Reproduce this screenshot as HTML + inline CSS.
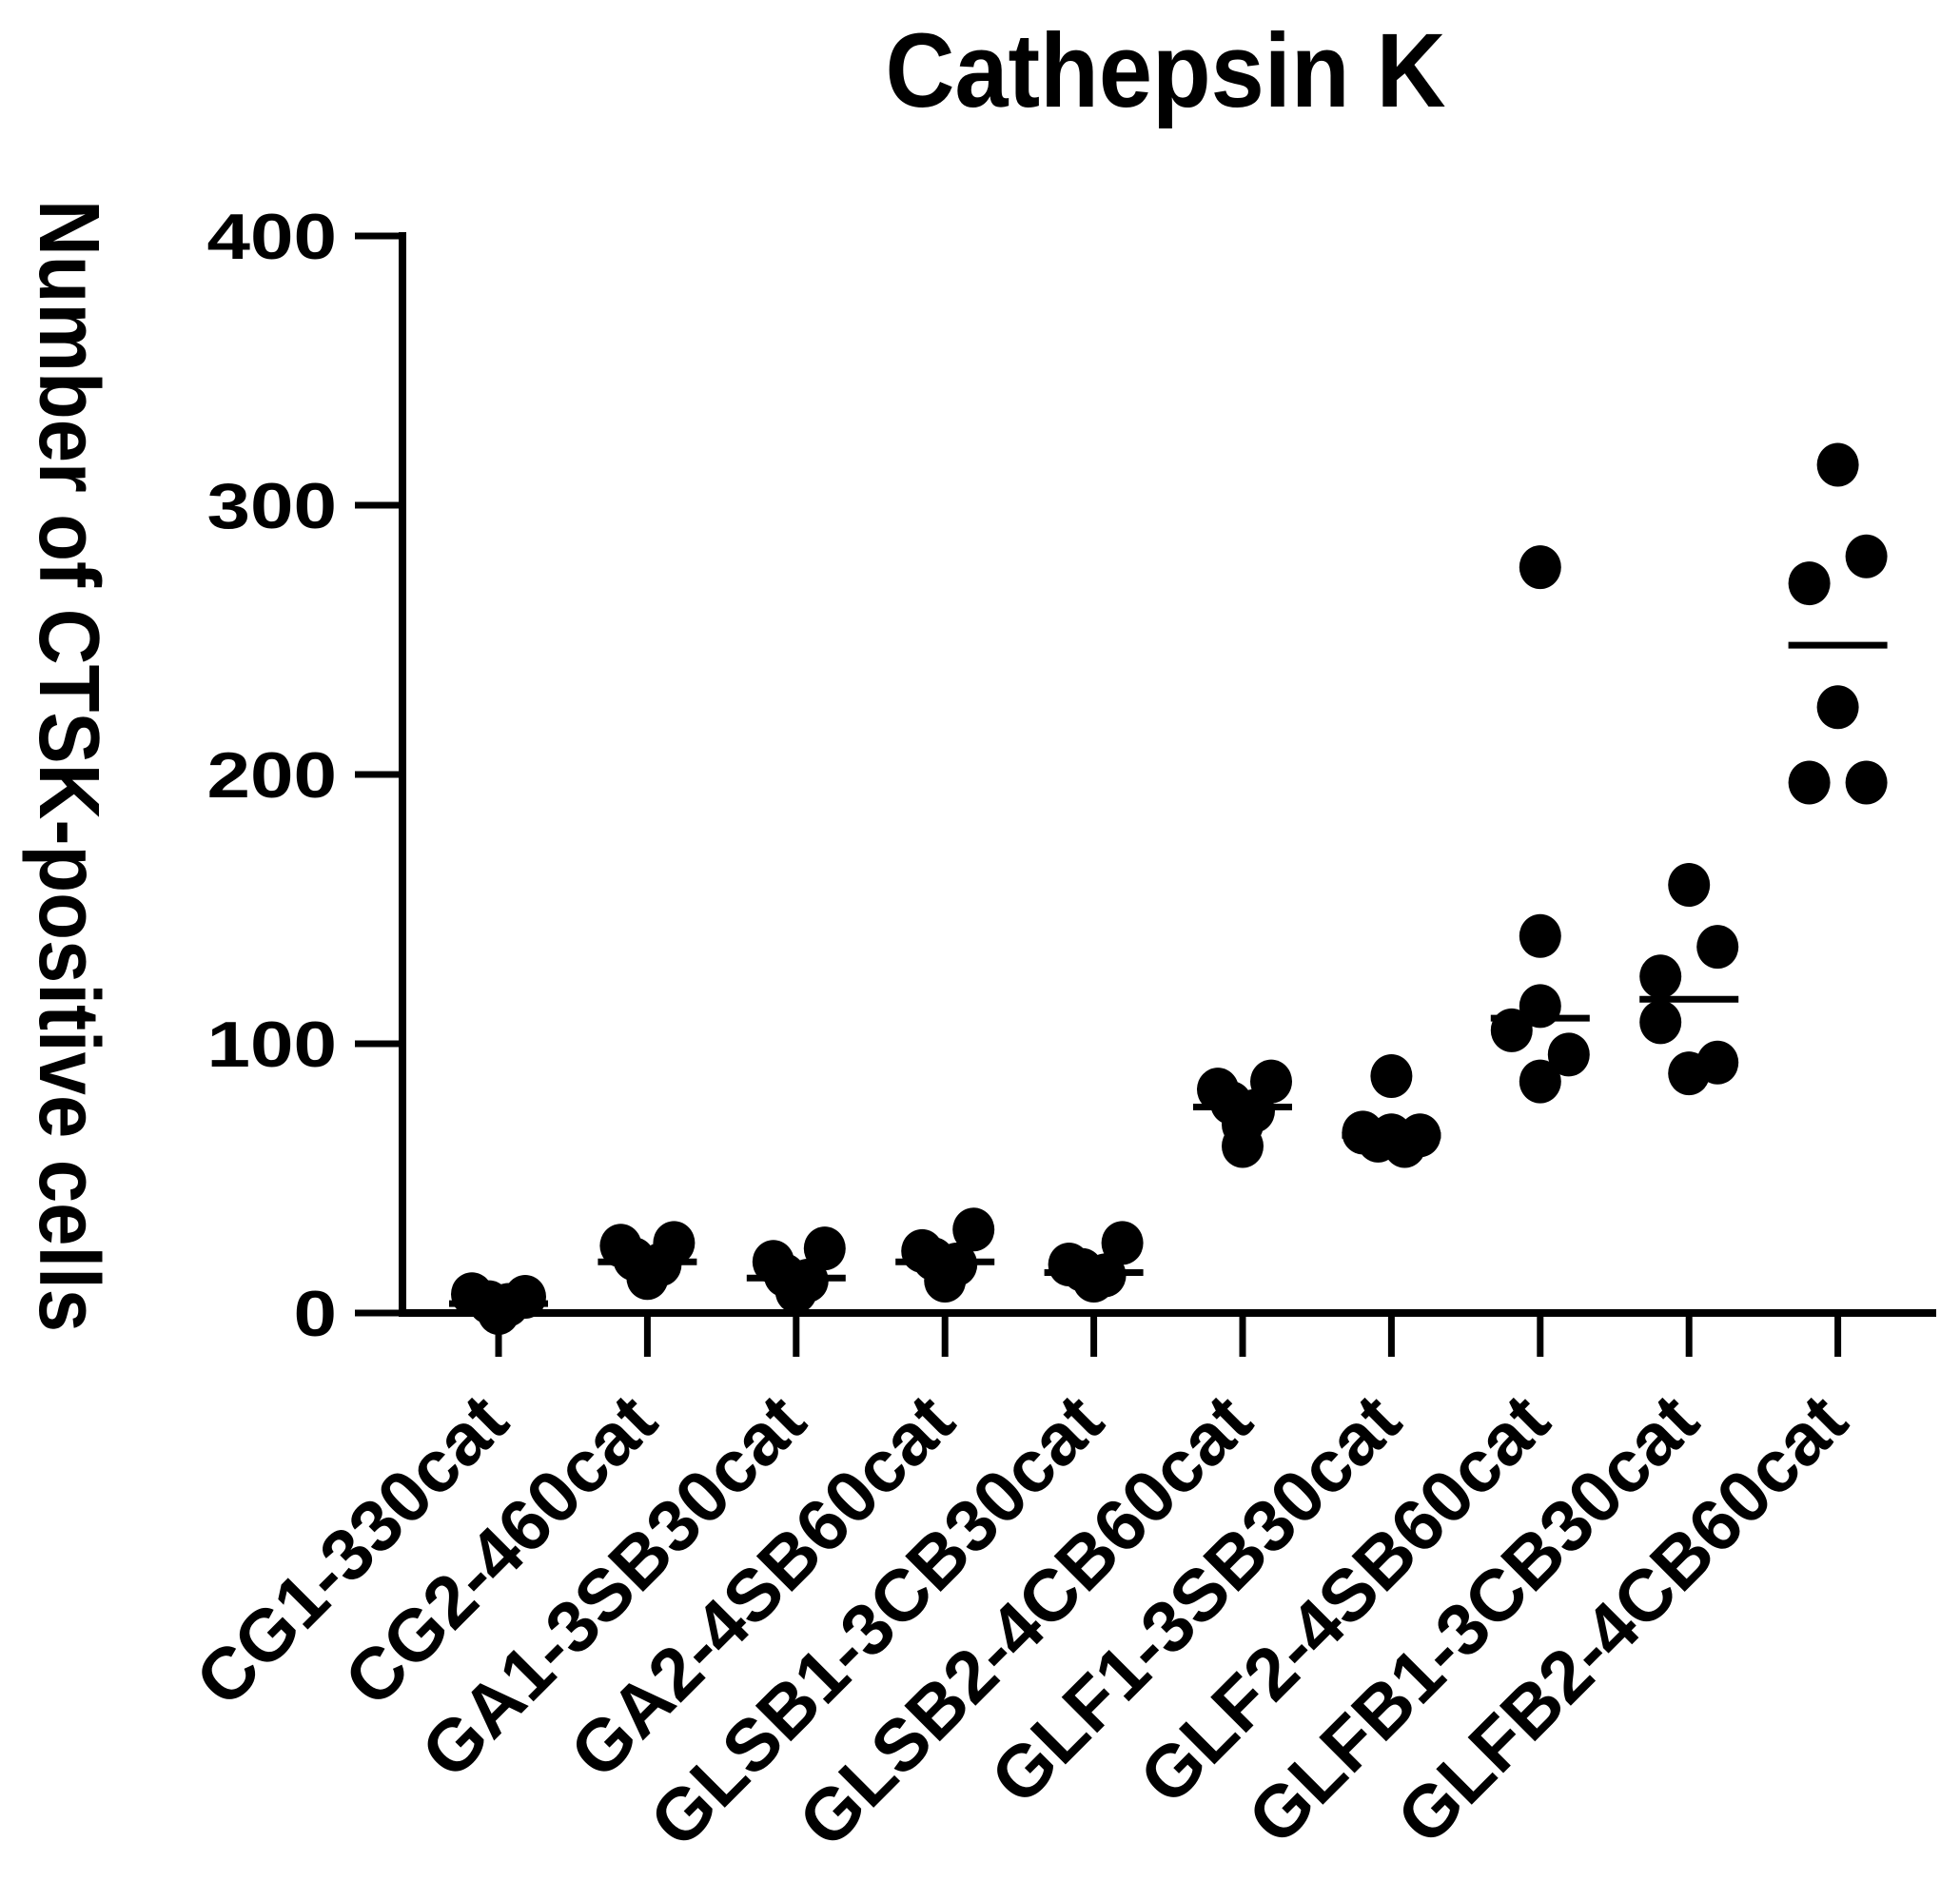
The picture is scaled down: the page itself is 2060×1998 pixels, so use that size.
<!DOCTYPE html>
<html><head><meta charset="utf-8"><style>html,body{margin:0;padding:0;background:#fff}svg{display:block}text{font-family:"Liberation Sans",Arial,sans-serif;font-weight:bold;fill:#000}</style></head>
<body>
<svg id="chart" width="2060" height="1998" viewBox="0 0 2060 1998" xmlns="http://www.w3.org/2000/svg">
<text x="1225" y="112" font-size="110" text-anchor="middle" textLength="589" lengthAdjust="spacingAndGlyphs">Cathepsin K</text>
<text transform="translate(42,805) rotate(90)" font-size="90" text-anchor="middle" textLength="1190" lengthAdjust="spacingAndGlyphs">Number of CTSK-positive cells</text>
<g id="axes"></g>
<g id="marks"></g>
</svg>
<script>
const categories = ["CG1-330cat","CG2-460cat","GA1-3SB30cat","GA2-4SB60cat","GLSB1-3CB30cat","GLSB2-4CB60cat","GLF1-3SB30cat","GLF2-4SB60cat","GLFB1-3CB30cat","GLFB2-4CB60cat"];
const valuesCG1 = [7,6,4,3,1,0];
const valuesCG2 = [25,26,20,18,15,13];
const valuesGA1 = [19,24,14,12,10,8];
const valuesGA2 = [23,31,20,18,14,12];
const valuesGLSB1 = [18,26,16,14,13,12];
const valuesGLSB2 = [83,86,78,75,70,62];
const valuesGLF1 = [88,67,66,66,64,62];
const valuesGLF2 = [277,140,114,105,96,86];
const valuesGLFB1 = [159,136,125,108,93,89];
const valuesGLFB2 = [315,281,271,225,197,197];
const seriesValues = [valuesCG1,valuesCG2,valuesGA1,valuesGA2,valuesGLSB1,valuesGLSB2,valuesGLF1,valuesGLF2,valuesGLFB1,valuesGLFB2];
const yTicks = [0,100,200,300,400];

const NS = "http://www.w3.org/2000/svg";
const axisX = 423, y0px = 1380, y400px = 248, xEnd = 2035;
const firstX = 524, stepX = 156.4;
function yScale(v){ return y0px - (v/400)*(y0px - y400px); }
function xScale(i){ return firstX + i*stepX; }
function mk(tag, attrs, parent){ const e=document.createElementNS(NS,tag); for(const k in attrs) e.setAttribute(k,attrs[k]); parent.appendChild(e); return e; }

const axes = document.getElementById('axes');
const marks = document.getElementById('marks');

const yAxis = mk('line',{x1:axisX,y1:yScale(400)-4,x2:axisX,y2:y0px+4,stroke:'#000','stroke-width':8},axes);


const xAxis = mk('line',{x1:axisX-4,y1:y0px,x2:xEnd,y2:y0px,stroke:'#000','stroke-width':8},axes);



yTicks.forEach(t=>{
  const y=yScale(t);
  const tk=mk('line',{x1:axisX-50,y1:y,x2:axisX,y2:y,stroke:'#000','stroke-width':7},axes);
  
  
  const lab=mk('text',{x:354,y:y+24,'font-size':68,'text-anchor':'end'},axes);
  
  
  lab.textContent=String(t);
  lab.setAttribute('textLength', String(t).length*45.5);
  lab.setAttribute('lengthAdjust','spacingAndGlyphs');
});

// horizontal jitter layout per group (pixels), not data
const groupOffsets = [
  [-28,28,-10,10,0,0],
  [-28,28,-14,14,0,0],
  [-24,30,-12,12,0,0],
  [-24,30,-12,12,0,0],
  [-26,30,-12,12,0,0],
  [-26,30,-12,12,0,0],
  [0,-30,30,0,-14,14],
  [0,0,0,-30,30,0],
  [0,30,-30,-30,30,0],
  [0,30,-30,0,-30,30]
];
categories.forEach((c,i)=>{
  const x=xScale(i);
  const tk=mk('line',{x1:x,y1:y0px,x2:x,y2:y0px+46,stroke:'#000','stroke-width':7},axes);
  
  
  const lab=mk('text',{'font-size':77,'text-anchor':'end',transform:'translate('+(x+14)+','+(1498)+') rotate(-45)'},axes);
  
  
  lab.textContent=c;

  const vals=seriesValues[i];
  const offs=groupOffsets[i];
  vals.forEach((v,j)=>{
    const d=mk('ellipse',{cx:x+offs[j%offs.length],cy:yScale(v),rx:22,ry:23,fill:'#000'},marks);
    
    
  });
  const s=[...vals].sort((a,b)=>a-b);
  const n=s.length;
  const med = n%2 ? s[(n-1)/2] : (s[n/2-1]+s[n/2])/2;
  const ml=mk('line',{x1:x-52,y1:yScale(med),x2:x+52,y2:yScale(med),stroke:'#000','stroke-width':7},marks);
  
  
});
</script>
</body></html>
